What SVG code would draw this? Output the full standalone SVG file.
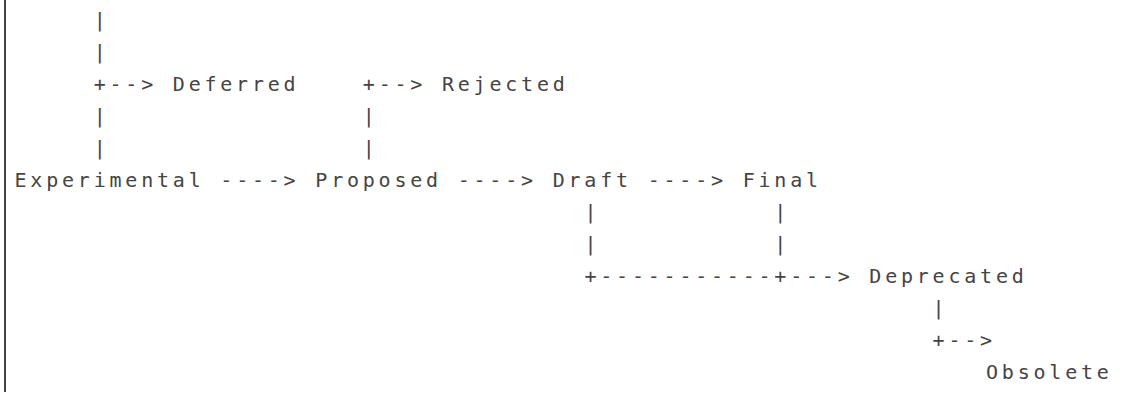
<svg xmlns="http://www.w3.org/2000/svg" width="1128" height="394" viewBox="0 0 1128 394">
<style>
text{font-family:"DejaVu Sans Mono","Liberation Mono",monospace;font-size:20px;letter-spacing:3.79px;fill:#444;white-space:pre}
</style>
<rect x="0" y="0" width="1128" height="394" fill="#ffffff"/>
<rect id="border" x="4" y="0" width="2" height="392" fill="#444"/>
<g id="connectors">
<text x="93.65" y="27">|</text>
<text x="93.65" y="59">|</text>
<text x="93.65" y="91">+--&gt;</text>
<text x="362.8" y="91">+--&gt;</text>
<text x="93.65" y="123">|</text>
<text x="362.8" y="123">|</text>
<text x="93.65" y="155">|</text>
<text x="362.8" y="155">|</text>
<text x="220.3" y="187">----&gt;</text>
<text x="457.7" y="187">----&gt;</text>
<text x="647.7" y="187">----&gt;</text>
<text x="584.4" y="219">|</text>
<text x="774.3" y="219">|</text>
<text x="584.4" y="251">|</text>
<text x="774.3" y="251">|</text>
<text x="584.4" y="283">+-----------+---&gt;</text>
<text x="932.6" y="315">|</text>
<text x="932.6" y="347">+--&gt;</text>
</g>
<g id="deferred"><text x="172.8" y="91">Deferred</text></g>
<g id="rejected"><text x="441.9" y="91">Rejected</text></g>
<g id="experimental"><text x="14.5" y="187">Experimental</text></g>
<g id="proposed"><text x="315.3" y="187">Proposed</text></g>
<g id="draft"><text x="552.7" y="187">Draft</text></g>
<g id="final"><text x="742.7" y="187">Final</text></g>
<g id="deprecated"><text x="869.3" y="283">Deprecated</text></g>
<g id="obsolete"><text x="986" y="379">Obsolete</text></g>
</svg>
